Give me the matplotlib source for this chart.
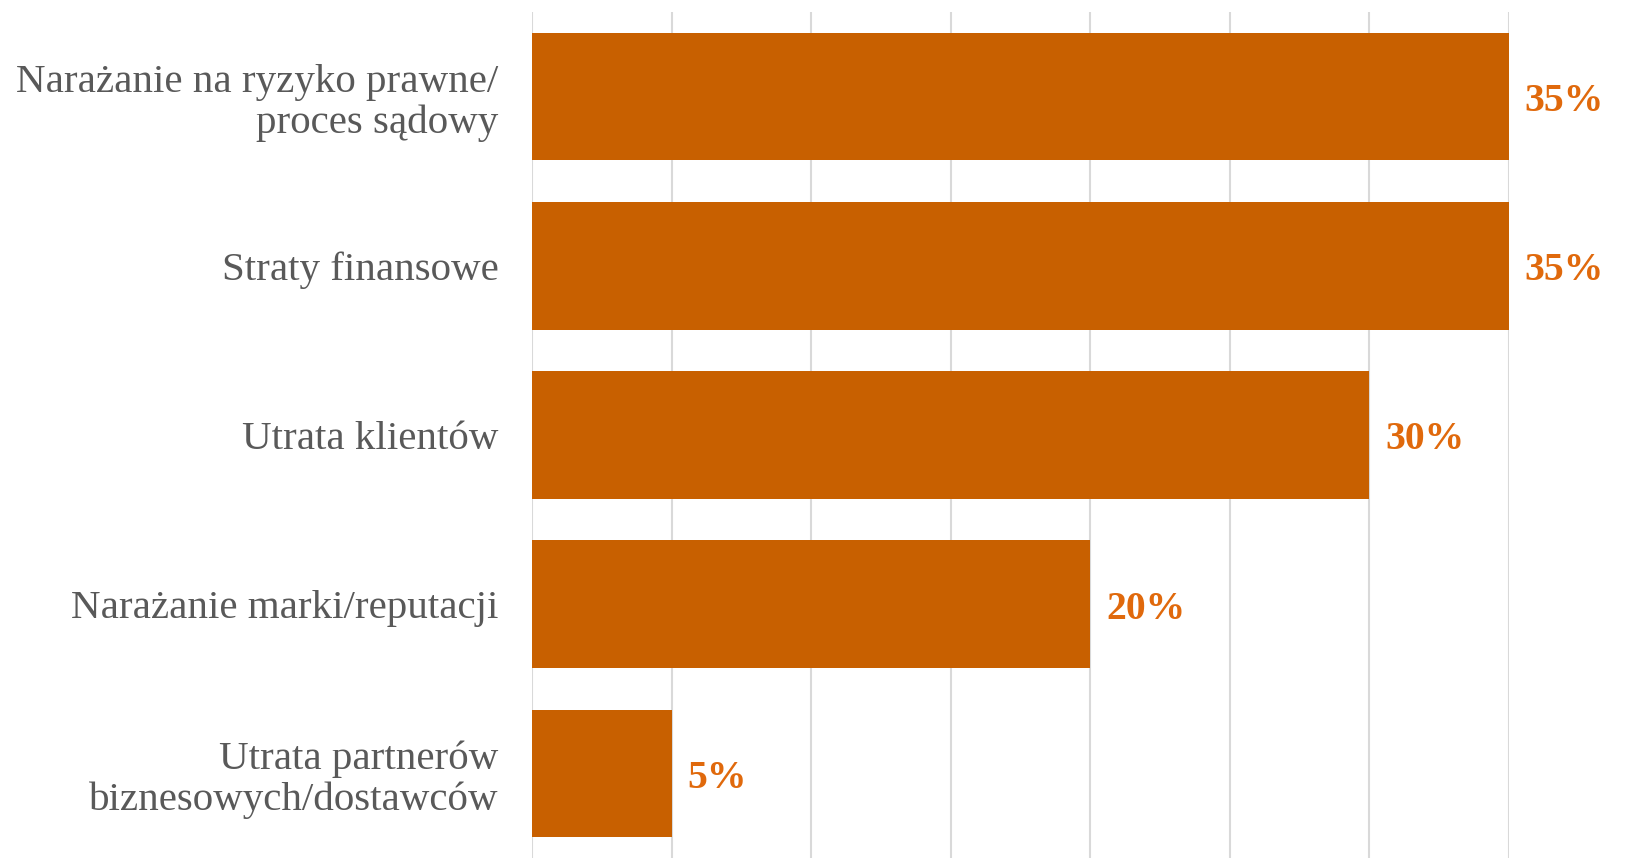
import matplotlib.pyplot as plt

# categories (top to bottom) and share of respondents in %
categories = [
    "Narażanie na ryzyko prawne/\nproces sądowy",
    "Straty finansowe",
    "Utrata klientów",
    "Narażanie marki/reputacji",
    "Utrata partnerów\nbiznesowych/dostawców",
]
values = [35, 35, 30, 20, 5]

bar_color = "#C86000"
label_color = "#E0690C"
text_color = "#595959"
grid_color = "#D9D9D9"

fig = plt.figure(figsize=(16.29, 8.58), dpi=100)
ax = fig.add_axes([532 / 1629, 0.0, (1508.7 - 532) / 1629, 846 / 858])

pos = list(range(len(categories)))
ax.barh(pos, values, height=0.755, color=bar_color, zorder=2)
ax.set_ylim(len(categories) - 0.5, -0.5)
ax.set_xlim(0, 35)

ax.set_xticks(range(0, 36, 5))
ax.xaxis.grid(True, color=grid_color, linewidth=1.5, zorder=0)
ax.tick_params(axis="x", length=0, labelbottom=False)
ax.tick_params(axis="y", length=0, pad=24)
ax.set_yticks(pos)
ax.set_yticklabels(categories, fontsize=29.5, color=text_color,
                   family="Liberation Serif", linespacing=1.12)
for s in ax.spines.values():
    s.set_visible(False)

for y, v in zip(pos, values):
    ax.annotate(f"{v}%", xy=(v, y), xytext=(11.5, -3.5), textcoords="offset points",
                ha="left", va="center", fontsize=28.5, fontweight="bold",
                color=label_color, family="Liberation Serif", annotation_clip=False)

fig.savefig("out.png", dpi=100)
